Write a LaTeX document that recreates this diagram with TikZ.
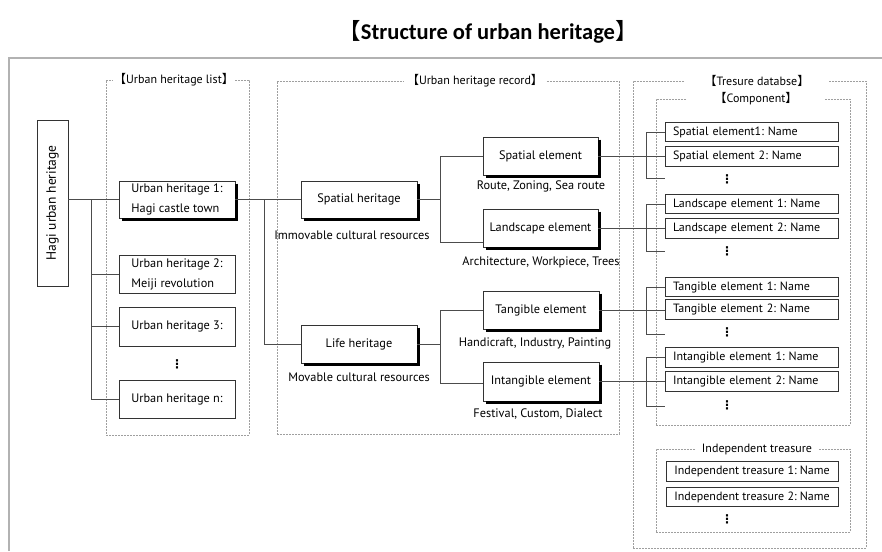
\documentclass[tikz,border=0pt]{standalone}
\usepackage{fontspec}
\setmainfont{PT Sans}
\newfontfamily\cjk{Noto Sans CJK SC}
\newfontfamily\titlefont{Carlito}
\newfontfamily\dvfont{DejaVu Sans}
\usetikzlibrary{calc}
\newcommand\lbrk{{\cjk\mdseries 【}}
\newcommand\rbrk{{\cjk\mdseries 】}}
\begin{document}
\frenchspacing
\begin{tikzpicture}[x=1pt,y=-1pt,
  box/.style={draw=black!80, line width=0.7pt, fill=white, inner sep=0pt, align=left, font=\fontsize{12.3}{20}\selectfont},
  shbox/.style={box, align=center},
  comp/.style={draw=black!80, line width=0.7pt, fill=white, minimum width=173pt, minimum height=19.5pt, text width=157pt, inner xsep=8pt, inner ysep=0pt, align=left, font=\fontsize{12}{14}\selectfont},
  compc/.style={draw=black!80, line width=0.7pt, fill=white, minimum width=172pt, minimum height=19.5pt, inner xsep=1pt, inner ysep=0pt, font=\fontsize{12}{14}\selectfont},
  note/.style={inner sep=0pt, font=\fontsize{12.3}{14}\selectfont},
  dotsn/.style={inner sep=0pt, font=\dvfont\bfseries\fontsize{12}{12}\selectfont},
  frame/.style={draw=gray!75, dash pattern=on 2pt off 1pt, line width=0.6pt, inner sep=0pt},
  flabel/.style={fill=white, inner ysep=1pt, font=\fontsize{12}{13}\selectfont},
  link/.style={draw=black!70, line width=0.7pt},
  shadowline/.style={draw=black, line width=3pt}
]
\useasboundingbox (0,0) rectangle (882,551);

% title and outer frame
\node (title) at (488,32) {\titlefont\bfseries\fontsize{22.5}{26}\selectfont\lbrk Structure of urban heritage\rbrk};
\draw[gray!60, line width=1.5pt] (9,551) -- (9,58) -- (882,58);

% dashed frames
\node[frame, minimum width=143pt, minimum height=355pt] (list) at (177.5,257.5) {};
\node[frame, minimum width=342pt, minimum height=353pt] (record) at (448,257.5) {};
\node[frame, minimum width=233pt, minimum height=467pt] (db) at (749.5,314.5) {};
\node[frame, minimum width=194pt, minimum height=326pt] (compf) at (753,262) {};
\node[frame, minimum width=194pt, minimum height=83pt] (indep) at (753,490.5) {};

\node[flabel, inner xsep=1pt] (listl) at (174,80) {\lbrk Urban heritage list\rbrk};
\node[flabel, inner xsep=3pt] (recordl) at (475,81) {\lbrk Urban heritage record\rbrk};
\node[flabel, inner xsep=20pt] (dbl) at (757,81) {\lbrk Tresure databse\rbrk};
\node[flabel, inner xsep=28pt] (compl) at (756,99) {\lbrk Component\rbrk};
\node[flabel, inner xsep=6pt] (indepl) at (757,449) {Independent treasure};

% Hagi
\node[box, minimum width=31pt, minimum height=166pt] (hagi) at (52.5,203) {};
\node[note, rotate=90, font=\fontsize{13.5}{15}\selectfont] (hagit) at (hagi) {Hagi urban heritage};

% urban heritage list
\node[box, align=left, minimum width=116pt, minimum height=37pt] (uh1) at (177,199.5) {Urban heritage 1:\\Hagi castle town};
\node[box, minimum width=116pt, minimum height=38pt] (uh2) at (177,274) {Urban heritage 2:\\Meiji revolution};
\node[box, minimum width=116pt, minimum height=39pt] (uh3) at (177,326.5) {Urban heritage 3:};
\node[dotsn] (uhd) at (177,364) {⋮};
\node[box, minimum width=116pt, minimum height=38pt] (uhn) at (177,399) {Urban heritage n:};

% record
\node[shbox, minimum width=116pt, minimum height=37pt] (sh) at (359,199.5) {Spatial heritage};
\node[note] (shl) at (352,235) {Immovable cultural resources};
\node[shbox, minimum width=116pt, minimum height=38pt] (lh) at (359,344) {Life heritage};
\node[note] (lhl) at (359,377) {Movable cultural resources};

\node[shbox, minimum width=115pt, minimum height=38pt] (se) at (540.5,156) {Spatial element};
\node[note] (sel) at (541,186) {Route, Zoning, Sea route};
\node[shbox, minimum width=115pt, minimum height=38pt] (le) at (540.5,228) {Landscape element};
\node[note] (lel) at (541,262) {Architecture, Workpiece, Trees};
\node[shbox, minimum width=116pt, minimum height=38pt] (te) at (541,310) {Tangible element};
\node[note] (tel) at (535,343) {Handicraft, Industry, Painting};
\node[shbox, minimum width=116pt, minimum height=39pt] (ie) at (541,381.5) {Intangible element};
\node[note] (iel) at (538,414) {Festival, Custom, Dialect};

% drop shadows (right and bottom strips)
\foreach \n in {uh1,sh,lh,se,le,te,ie}
  \draw[shadowline] ([xshift=1.5pt,yshift=-3pt]\n.north east) |- ([xshift=3pt,yshift=-1.5pt]\n.south west);

% components
\node[comp] (se1) at (751.5,132) {Spatial element1: Name};
\node[comp] (se2) at (751.5,156.5) {Spatial element 2: Name};
\node[dotsn] (sed) at (727,179) {⋮};
\node[comp] (le1) at (751.5,204) {Landscape element 1: Name};
\node[comp] (le2) at (751.5,228.5) {Landscape element 2: Name};
\node[dotsn] (led) at (727,251.5) {⋮};
\node[comp] (te1) at (751.5,287) {Tangible element 1: Name};
\node[comp] (te2) at (751.5,309.5) {Tangible element 2: Name};
\node[dotsn] (ted) at (727,332.5) {⋮};
\node[comp] (ie1) at (751.5,357.5) {Intangible element 1: Name};
\node[comp] (ie2) at (751.5,381.5) {Intangible element 2: Name};
\node[dotsn] (ied) at (727,405.5) {⋮};

\node[compc] (it1) at (752,471.5) {Independent treasure 1: Name};
\node[compc] (it2) at (752,497) {Independent treasure 2: Name};
\node[dotsn] (itd) at (727,519) {⋮};

% connectors
\coordinate (j1) at (91,0);
\coordinate (j2) at (264,0);
\coordinate (j3) at (440,0);
\coordinate (jb) at (646,0);
\coordinate (lejoin) at ($(le.west)+(0,14)$);
\coordinate (iejoin) at ($(ie.west)+(0,1.5)$);

\draw[link] (uh1.west -| hagi.east) -- (uh1.west);
\draw[link] (uh1.west -| j1) |- (uhn.west);
\draw[link] (uh2.west -| j1) -- (uh2.west);
\draw[link] (uh3.west -| j1) -- (uh3.west);

\draw[link] (uh1.east) -- (sh.west);
\draw[link] (uh1.east -| j2) |- (lh.west);

\draw[link] (sh.east) -- (sh.east -| j3);
\draw[link] (se.west) -| (j3 |- lejoin) -- (lejoin);
\draw[link] (lh.east) -- (lh.east -| j3);
\draw[link] (te.west) -| (j3 |- iejoin) -- (iejoin);

\draw[link] (se.east) -- (se.east -| se2.west);
\draw[link] (le.east) -- (le.east -| le2.west);
\draw[link] (te.east) -- (te.east -| te2.west);
\draw[link] (ie.east) -- (ie.east -| ie2.west);

\coordinate (sedj) at (665,178);
\coordinate (ledj) at (665,251);
\coordinate (tedj) at (665,334);
\coordinate (iedj) at (665,406);
\draw[link] (se1.west) -| (jb |- sedj) -- (sedj);
\draw[link] (le1.west) -| (jb |- ledj) -- (ledj);
\draw[link] (te1.west) -| (jb |- tedj) -- (tedj);
\draw[link] (ie1.west) -| (jb |- iedj) -- (iedj);
\end{tikzpicture}
\end{document}
